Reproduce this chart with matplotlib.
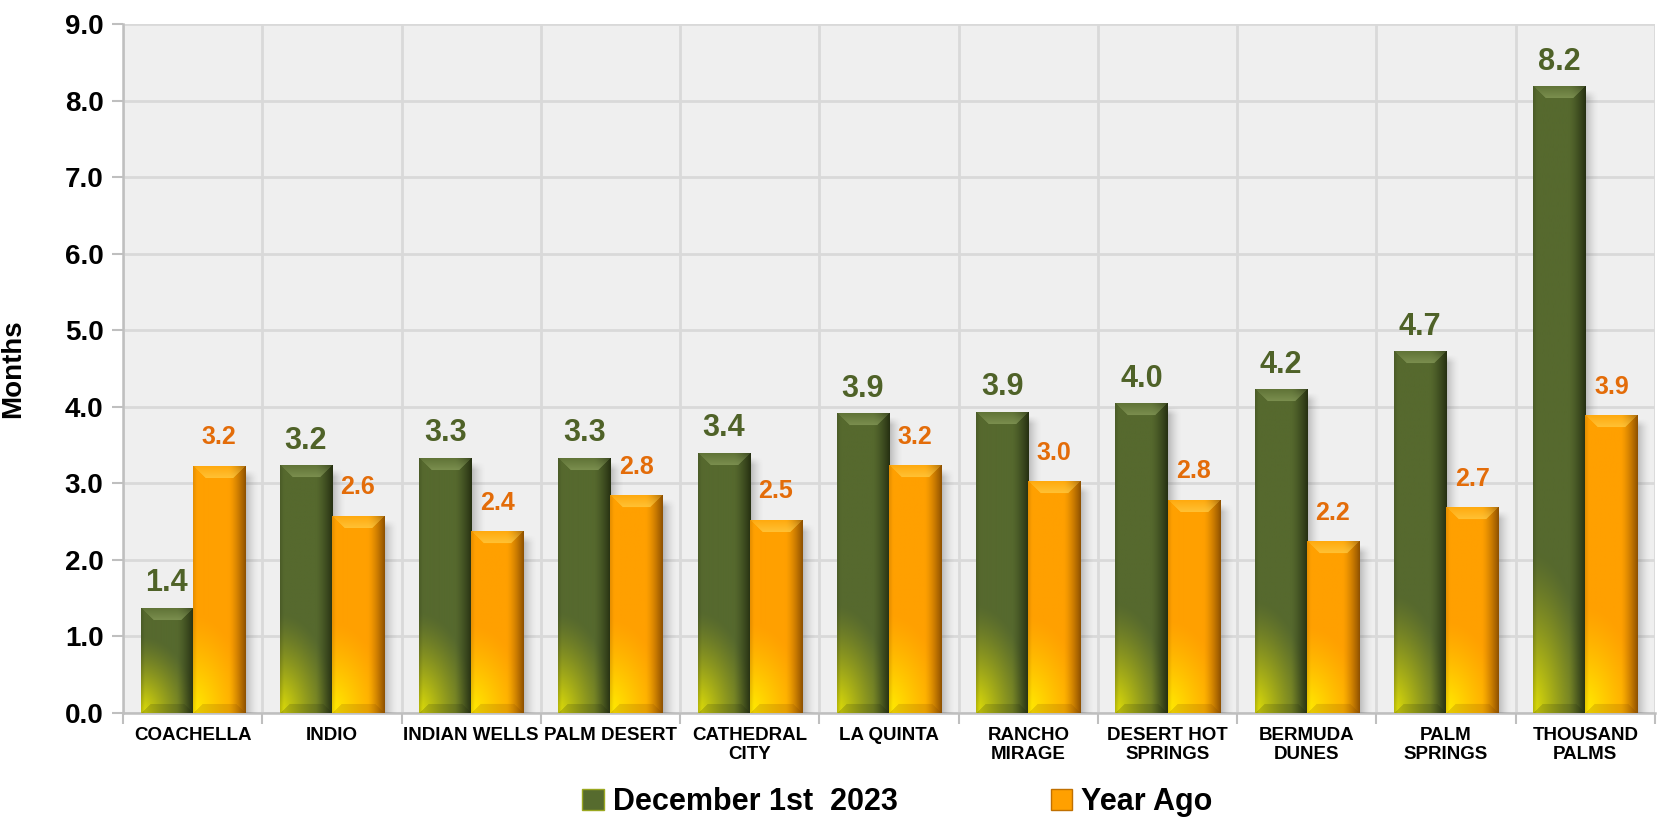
import numpy as np
import matplotlib
matplotlib.use("Agg")
import matplotlib.pyplot as plt
from matplotlib.patches import Patch

plt.rcParams['font.family'] = ['Liberation Sans', 'DejaVu Sans']

# ---------------- data ----------------
categories = ["COACHELLA", "INDIO", "INDIAN WELLS", "PALM DESERT", "CATHEDRAL\nCITY",
              "LA QUINTA", "RANCHO\nMIRAGE", "DESERT HOT\nSPRINGS", "BERMUDA\nDUNES",
              "PALM\nSPRINGS", "THOUSAND\nPALMS"]
current = [1.37, 3.23, 3.33, 3.33, 3.39, 3.91, 3.93, 4.04, 4.22, 4.72, 8.18]
year_ago = [3.22, 2.57, 2.37, 2.84, 2.52, 3.23, 3.02, 2.78, 2.24, 2.68, 3.88]
series_names = ["December 1st  2023", "Year Ago"]
y_ticks = [0, 1, 2, 3, 4, 5, 6, 7, 8, 9]

# ---------------- figure ----------------
W, H = 1659, 825
fig = plt.figure(figsize=(W / 100, H / 100), dpi=100)
ax_l, ax_r, ax_t, ax_b = 123, 1655, 24, 713
ax = fig.add_axes([ax_l / W, 1 - ax_b / H, (ax_r - ax_l) / W, (ax_b - ax_t) / H])
n = len(categories)
ax.set_xlim(0, n)
ax.set_ylim(0, 9)
ax.set_facecolor('#EFEFEF')

px_x = (ax_r - ax_l) / n     # pixels per x unit
px_y = (ax_b - ax_t) / 9.0   # pixels per y unit

xc = np.arange(n) + 0.5
bw = 0.374

GREEN = np.array([86, 105, 46]) / 255
GREEN_DARK = np.array([28, 36, 12]) / 255
GREEN_LIGHT = np.array([135, 155, 90]) / 255
GREEN_GLOW = np.array([215, 215, 10]) / 255
ORANGE = np.array([255, 160, 0]) / 255
ORANGE_DARK = np.array([120, 65, 0]) / 255
ORANGE_LIGHT = np.array([255, 205, 70]) / 255
ORANGE_GLOW = np.array([255, 232, 0]) / 255


def mix(a, b, t):
    return a * (1 - t[..., None]) + b * t[..., None]


def shade(w, h, base, dark, light, glow):
    w = max(int(round(w)), 2)
    h = max(int(round(h)), 2)
    xs = np.arange(w) + 0.5
    ys = np.arange(h) + 0.5
    xx, yy = np.meshgrid(xs, ys)
    dl, dr, db, dt = xx, w - xx, yy, h - yy
    col = np.ones((h, w, 3)) * base
    # bottom-left glow
    G = 60 + 0.16 * h
    d = np.sqrt((dl / (w * 1.05)) ** 2 + (db / G) ** 2)
    g = np.clip(1 - d, 0, 1) ** 1.3
    col = mix(col, glow, np.clip(g * 1.1, 0, 1))
    # right dark edge
    t = np.clip(1 - dr / 17, 0, 1) ** 1.4
    col = mix(col, dark, t * 0.85)
    # left thin edge
    t2 = np.clip(1 - dl / 4, 0, 1)
    col = mix(col, dark, t2 * 0.2)
    # top bevel facet
    b = 12
    top = (dt < b) & (dl > dt) & (dr > dt)
    f = dt / b
    col[top] = mix(col[top], light, (0.2 + 0.55 * f[top]))
    # bottom bevel facet
    bot = (db < 9) & (dl > db) & (dr > db)
    col[bot] = mix(col[bot], dark, np.full(bot.sum(), 0.18))
    img = np.dstack([np.clip(col, 0, 1), np.ones((h, w))])
    return img


def shadow(h):
    w = 14
    h = max(int(round(h)), 2)
    xs = np.arange(w) + 0.5
    ys = np.arange(h) + 0.5
    xx, yy = np.meshgrid(xs, ys)
    a = 0.38 * np.clip(1 - xx / w, 0, 1) ** 1.6
    a *= np.clip((h - yy) / 8, 0, 1)
    img = np.zeros((h, w, 4))
    img[..., :3] = 0.35
    img[..., 3] = a
    return img


g_bars = ax.bar(xc - bw / 2, current, bw, color='#566B2E', zorder=3)
o_bars = ax.bar(xc + bw / 2, year_ago, bw, color='#FFA000', zorder=3)

for bars, base, dark, light, glow, z in [
        (g_bars, GREEN, GREEN_DARK, GREEN_LIGHT, GREEN_GLOW, 4),
        (o_bars, ORANGE, ORANGE_DARK, ORANGE_LIGHT, ORANGE_GLOW, 6)]:
    for p in bars:
        x0, w = p.get_x(), p.get_width()
        h = p.get_height()
        sh = shadow(h * px_y - 4)
        ax.imshow(sh, extent=(x0 + w, x0 + w + 14 / px_x, 0, h - 4 / px_y),
                  origin='lower', aspect='auto', interpolation='bilinear', zorder=z - 0.5)
        img = shade(w * px_x, h * px_y, base, dark, light, glow)
        ax.imshow(img, extent=(x0, x0 + w, 0, h), origin='lower', aspect='auto',
                  interpolation='bilinear', zorder=z)

ax.set_xlim(0, n)
ax.set_ylim(0, 9)

# value labels
for x, v in zip(xc - bw / 2, current):
    ax.text(x, v + 17 / px_y, f"{v:.1f}", ha='center', va='baseline',
            fontsize=22, fontweight='bold', color='#4F6228', zorder=10)
for x, v in zip(xc + bw / 2, year_ago):
    ax.text(x, v + 22 / px_y, f"{v:.1f}", ha='center', va='baseline',
            fontsize=18, fontweight='bold', color='#E36C09', zorder=10)

# axes styling
ax.set_yticks(y_ticks)
ax.set_yticklabels([f"{t:.1f}" for t in y_ticks], fontsize=20, fontweight='bold')
ax.tick_params(axis='y', length=8, width=1.5, color='#BFBFBF', pad=6)
ax.set_xticks(xc)
ax.set_xticklabels(categories, fontsize=13.5, fontweight='bold', linespacing=1.15)
ax.tick_params(axis='x', which='major', length=0, pad=10)
ax.set_xticks(np.arange(n + 1), minor=True)
ax.tick_params(axis='x', which='minor', length=8, width=1.5, color='#BFBFBF')
ax.yaxis.grid(True, color='#D9D9D9', lw=2, zorder=0)
ax.xaxis.grid(True, which='minor', color='#D9D9D9', lw=2, zorder=0)
ax.xaxis.grid(False, which='major')
ax.set_axisbelow(True)
for s in ['top', 'right']:
    ax.spines[s].set_visible(False)
for s in ['left', 'bottom']:
    ax.spines[s].set_color('#BFBFBF')
    ax.spines[s].set_linewidth(1.8)

ax.set_ylabel('Months', fontsize=20, fontweight='bold')
ax.yaxis.set_label_coords(-(ax_l - 26) / (ax_r - ax_l), 0.5)

handles = [Patch(facecolor='#566B2E', edgecolor='#9aa820'),
           Patch(facecolor='#FFA000', edgecolor='#c07000')]
fig.legend(handles, series_names, loc='center', bbox_to_anchor=(0.541, 1 - 802 / H),
           ncol=2, frameon=False, prop={'size': 22, 'weight': 'bold'},
           columnspacing=5.0, handlelength=0.7, handleheight=0.7, handletextpad=0.3,
           borderpad=0.1)

fig.savefig('out.png', dpi=100, facecolor='white')
